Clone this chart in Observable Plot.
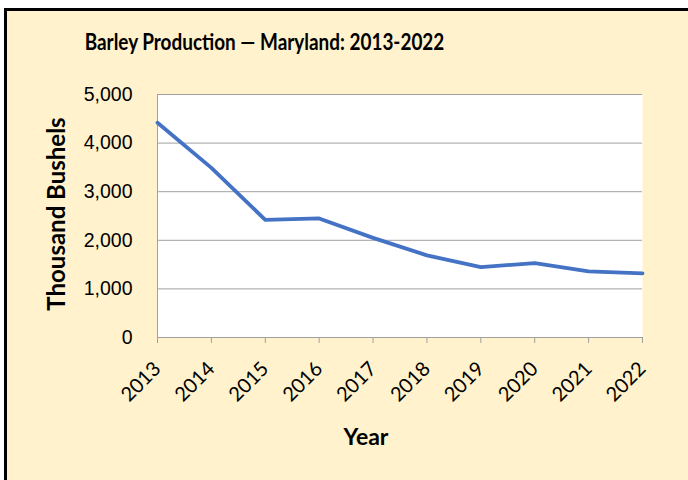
<!DOCTYPE html>
<html>
<head>
<meta charset="utf-8">
<script src="https://cdn.jsdelivr.net/npm/d3@7"></script>
<script src="https://cdn.jsdelivr.net/npm/@observablehq/plot@0.6"></script>
<style>
  body { margin: 0; background: #ffffff; }
  #wrap { position: relative; width: 688px; height: 480px; overflow: hidden; }
  #box { position: absolute; left: 4px; top: 8px; width: 720px; height: 520px; border: 3px solid #000; background: #fff2cc; box-sizing: border-box; }
  .cal { font-family: Lato, sans-serif; font-weight: bold; color: #000; line-height: 1; }
  #title { position: absolute; top: 31px; left: 0; width: 529px; text-align: center; font-size: 22px; transform: scaleX(0.86); transform-origin: 264.5px 50%; white-space: nowrap; }
  #ylab { position: absolute; left: 56px; top: 214px; transform: translate(-50%, -50%) rotate(-90deg); white-space: nowrap; font-size: 24px; }
  #xlab { position: absolute; top: 425px; left: 366px; transform: translateX(-50%); font-size: 23px; }
  #chart { position: absolute; left: 0; top: 0; }
</style>
</head>
<body>
<div id="wrap">
  <div id="box"></div>
  <div id="title" class="cal">Barley Production — Maryland: 2013-2022</div>
  <div id="ylab" class="cal">Thousand Bushels</div>
  <div id="xlab" class="cal">Year</div>
  <div id="chart"></div>
</div>
<script>
const years = [2013, 2014, 2015, 2016, 2017, 2018, 2019, 2020, 2021, 2022];
const production = [4420, 3490, 2420, 2450, 2050, 1690, 1450, 1530, 1360, 1320];
const yTicks = [0, 1000, 2000, 3000, 4000, 5000];

const data = years.map((y, i) => ({year: y, value: production[i]}));

const chart = Plot.plot({
  width: 688,
  height: 480,
  marginLeft: 157,
  marginRight: 46,
  marginTop: 94,
  marginBottom: 143,
  style: {background: "transparent", overflow: "visible", fontSize: "19.5px", fontFamily: "Liberation Sans, Arial, sans-serif"},
  x: {type: "linear", domain: [2013, 2022]},
  y: {domain: [0, 5000]},
  marks: [
    Plot.frame({fill: "#ffffff", stroke: null}),
    Plot.gridY(yTicks, {stroke: "#a0a0a0", strokeOpacity: 1, strokeWidth: 1}),
    Plot.ruleX([2013], {stroke: "#a0a0a0", strokeWidth: 1}),
    Plot.axisY(yTicks, {
      tickSize: 0, tickPadding: 25, label: null,
      tickFormat: d => d3.format(",")(d),
      fill: "#000"
    }),
    Plot.axisX(years, {
      tickSize: 6, stroke: "#a0a0a0", label: null,
      tickFormat: d => String(d), tickRotate: -45,
      tickPadding: 22,
      fill: "#000"
    }),
    Plot.ruleY([0], {stroke: "#a0a0a0", strokeWidth: 1}),
    Plot.line(data, {x: "year", y: "value", stroke: "#4472c4", strokeWidth: 3.8, strokeLinejoin: "round", strokeLinecap: "round"})
  ]
});
// x tick labels in a Calibri-like face
chart.querySelectorAll("text").forEach(t => {
  if (/^20\d\d$/.test(t.textContent.trim())) {
    t.style.fontFamily = "Lato, sans-serif";
    t.style.fontSize = "20px";
  }
});
document.getElementById("chart").appendChild(chart);
</script>
</body>
</html>
